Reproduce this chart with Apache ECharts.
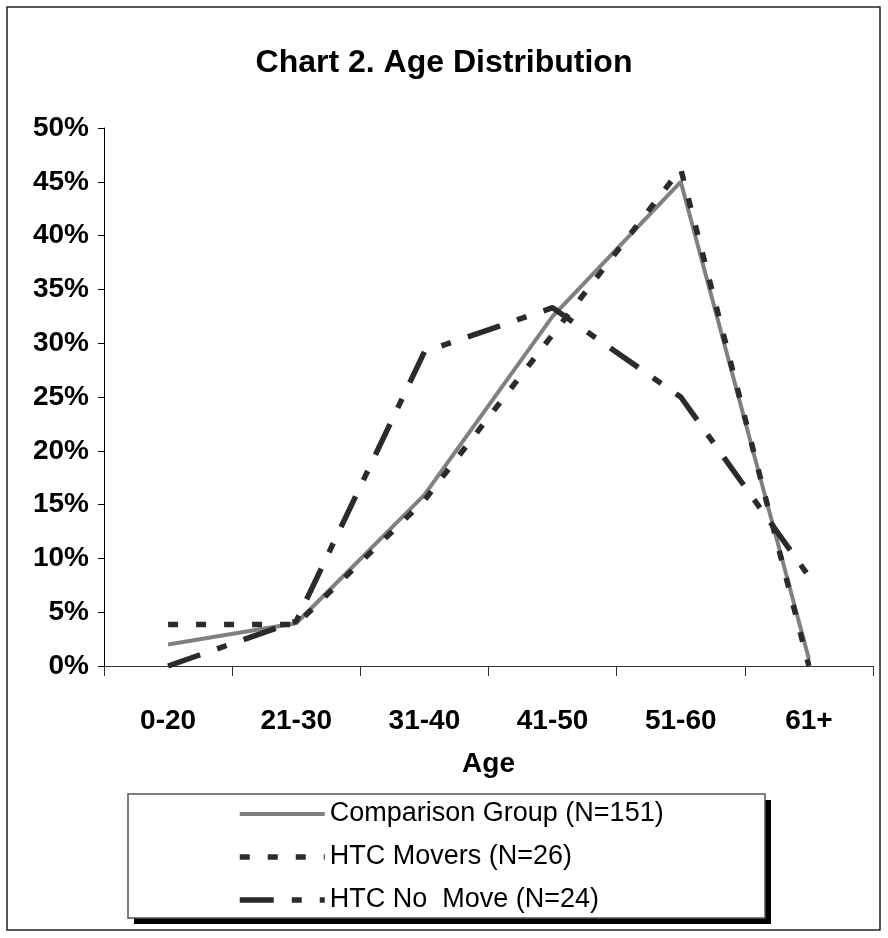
<!DOCTYPE html>
<html>
<head>
<meta charset="utf-8">
<script src="https://cdn.jsdelivr.net/npm/echarts@6/dist/echarts.min.js"></script>
<style>
html, body { margin: 0; padding: 0; background: #fff; }
#main { width: 888px; height: 938px; }
</style>
</head>
<body>
<div id="main"></div>
<script>
// age groups on the x axis
var ageGroups = ['0-20', '21-30', '31-40', '41-50', '51-60', '61+'];
// share of each group (fractions)
var comparisonGroup = [0.0199, 0.0397, 0.159, 0.325, 0.450, 0.0066];
var htcMovers = [0.0385, 0.0385, 0.154, 0.308, 0.462, 0.0];
var htcNoMove = [0.0, 0.0417, 0.292, 0.333, 0.250, 0.0833];
var seriesNames = ['Comparison Group (N=151)', 'HTC Movers (N=26)', 'HTC No  Move (N=24)'];

var FONT = "'Liberation Sans', Arial, sans-serif";

var chart = echarts.init(document.getElementById('main'));

var option = {
	backgroundColor: '#fff',
	animation: false,
	title: {
		text: 'Chart 2. Age Distribution',
		left: 'center',
		top: 47,
		padding: 0,
		textStyle: { fontFamily: FONT, fontSize: 32, fontWeight: 'bold', color: '#000' }
	},
	graphic: [
		{ // outer frame
			type: 'rect', z: 0,
			shape: { x: 7, y: 7, width: 873, height: 923 },
			style: { fill: null, stroke: '#222', lineWidth: 1.5 }
		},
		{ // legend shadow
			type: 'rect', z: 0,
			shape: { x: 134, y: 800, width: 637, height: 124 },
			style: { fill: '#000' }
		},
		{ // legend box
			type: 'rect', z: 1,
			shape: { x: 128, y: 794, width: 637, height: 124 },
			style: { fill: '#fff', stroke: '#555', lineWidth: 1.5 }
		}
	],
	legend: {
		orient: 'vertical',
		left: 237,
		top: 800,
		padding: 0,
		itemWidth: 85,
		itemHeight: 14,
		itemGap: 15,
		itemStyle: { opacity: 0 },
		lineStyle: { width: 'inherit' },
		textStyle: { fontFamily: FONT, fontSize: 27, color: '#000', lineHeight: 28 },
		data: seriesNames
	},
	grid: { left: 104, right: 15, top: 128, bottom: 272 },
	xAxis: {
		type: 'category',
		data: ageGroups,
		boundaryGap: true,
		name: 'Age',
		nameLocation: 'middle',
		nameGap: 84,
		nameTextStyle: { fontFamily: FONT, fontSize: 28, fontWeight: 'bold', color: '#000' },
		axisLine: { lineStyle: { color: '#333', width: 1 } },
		axisTick: { show: true, length: 10, lineStyle: { color: '#333' } },
		axisLabel: { margin: 41, fontFamily: FONT, fontSize: 28, fontWeight: 'bold', color: '#000' },
		splitLine: { show: false }
	},
	yAxis: {
		type: 'value',
		min: 0,
		max: 0.5,
		interval: 0.05,
		axisLine: { show: true, lineStyle: { color: '#000', width: 1 } },
		axisTick: { show: true, length: 6, lineStyle: { color: '#000' } },
		axisLabel: {
			margin: 15,
			fontFamily: FONT, fontSize: 28, fontWeight: 'bold', color: '#000',
			formatter: function (v) { return Math.round(v * 100) + '%'; }
		},
		splitLine: { show: false }
	},
	series: [
		{
			name: seriesNames[0],
			type: 'line',
			data: comparisonGroup,
			symbol: 'none',
			lineStyle: { color: '#808080', width: 4, type: 'solid' },
			itemStyle: { color: '#808080' }
		},
		{
			name: seriesNames[1],
			type: 'line',
			data: htcMovers,
			symbol: 'none',
			lineStyle: { color: '#2b2b2b', width: 5.5, type: [10, 18] },
			itemStyle: { color: '#2b2b2b' }
		},
		{
			name: seriesNames[2],
			type: 'line',
			data: htcNoMove,
			symbol: 'none',
			lineStyle: { color: '#2b2b2b', width: 5.5, type: [34, 18, 10, 18] },
			itemStyle: { color: '#2b2b2b' }
		}
	]
};

chart.setOption(option);
</script>
</body>
</html>
